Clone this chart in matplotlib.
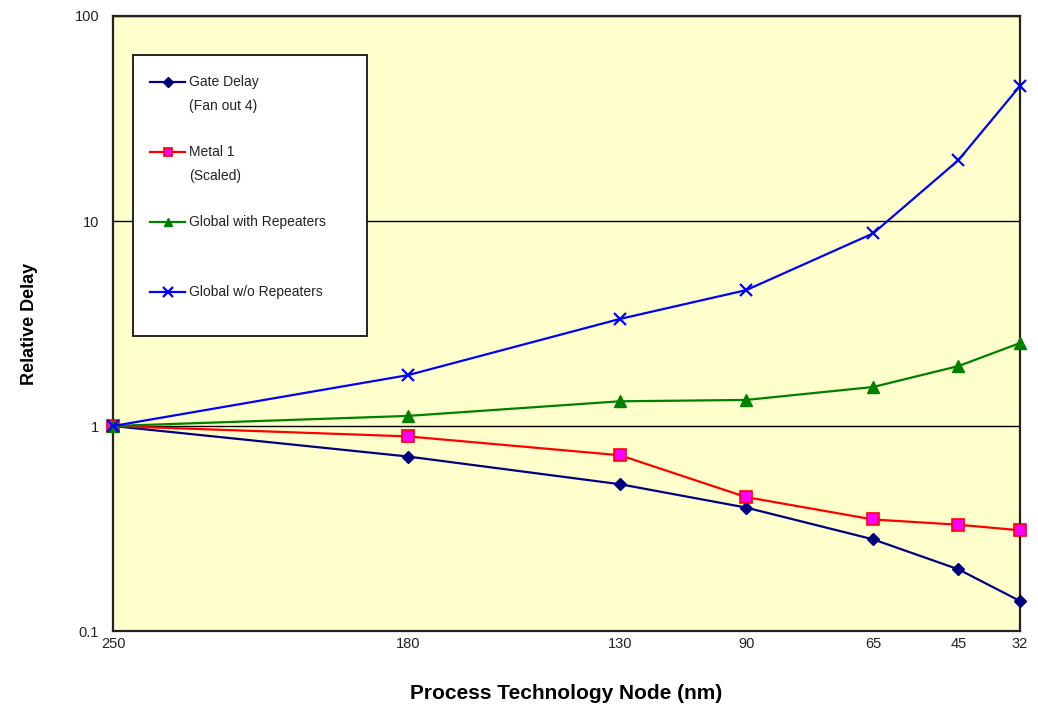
import matplotlib.pyplot as plt
from matplotlib.patches import Rectangle

plt.rcParams['font.family'] = ['Liberation Sans', 'DejaVu Sans']

# process nodes and where each one sits along the x axis (fraction of width)
nodes = [250, 180, 130, 90, 65, 45, 32]
node_pos = [0.0, 0.325, 0.559, 0.698, 0.838, 0.932, 1.0]

gate_delay = [1.0, 0.71, 0.52, 0.40, 0.28, 0.20, 0.14]
metal1 = [1.0, 0.89, 0.72, 0.45, 0.35, 0.33, 0.31]
global_rep = [1.0, 1.12, 1.32, 1.34, 1.55, 1.96, 2.54]
global_norep = [1.0, 1.77, 3.33, 4.6, 8.7, 19.8, 45.6]

series = [
    (["Gate Delay", "(Fan out 4)"], gate_delay,
     dict(color='#000080', marker='D', ms=6.5, mfc='#000080', mec='#000080')),
    (["Metal 1", "(Scaled)"], metal1,
     dict(color='#ff0000', marker='s', ms=8, mfc='#ff00ff', mec='#ff0000', mew=1.2)),
    (["Global with Repeaters"], global_rep,
     dict(color='#008000', marker='^', ms=8, mfc='#008000', mec='#008000')),
    (["Global w/o Repeaters"], global_norep,
     dict(color='#0000ff', marker='x', ms=9, mew=1.6, mec='#0000ff')),
]

fig = plt.figure(figsize=(10.38, 7.11), dpi=100)
ax = fig.add_axes([0.1089, 0.1125, 0.8738, 0.865])
ax.set_facecolor('#ffffcc')

for label, vals, style in series:
    ax.plot(node_pos, vals, lw=1.6, zorder=3, clip_on=False, **style)

ax.set_yscale('log')
ax.set_ylim(0.1, 100)
ax.set_xlim(0, 1)
ax.set_yticks([0.1, 1, 10, 100])
ax.set_yticklabels(['0.1', '1', '10', '100'])
ax.yaxis.set_minor_locator(plt.NullLocator())
ax.set_xticks(node_pos)
ax.set_xticklabels([str(n) for n in nodes])
ax.tick_params(axis='both', length=0, labelsize=10.5, colors='#222222')
ax.tick_params(axis='x', pad=4)
ax.tick_params(axis='y', pad=10)
ax.yaxis.grid(True, color='black', lw=1.0)
ax.set_axisbelow(True)
for sp in ax.spines.values():
    sp.set_linewidth(1.6)
    sp.set_color('#222222')

ax.set_ylabel('Relative Delay', fontsize=13, fontweight='bold')
ax.yaxis.set_label_coords(-0.083, 0.5)
ax.set_xlabel('Process Technology Node (nm)', fontsize=15, fontweight='bold', labelpad=24)

# legend box drawn by hand to get the Excel-like layout
ax.add_patch(Rectangle((0.022, 0.48), 0.258, 0.457, transform=ax.transAxes,
                       facecolor='white', edgecolor='black', lw=1.2, zorder=5))
rows = [0.8927, 0.7789, 0.6650, 0.5512]
for (label, vals, style), yr in zip(series, rows):
    line_style = {k: v for k, v in style.items() if k == 'color'}
    ax.plot([0.0408, 0.0794], [yr, yr], transform=ax.transAxes, lw=1.6,
            zorder=6, clip_on=False, **line_style)
    ax.plot([0.0601], [yr], transform=ax.transAxes, zorder=7, clip_on=False,
            ls='none', **dict(style, ms=style['ms'] * 0.8))
    for i, line in enumerate(label):
        ax.text(0.0838, yr - i * 0.039, line, transform=ax.transAxes,
                fontsize=10, va='center', ha='left', color='#222222', zorder=7)

fig.savefig('out.png', dpi=100)
